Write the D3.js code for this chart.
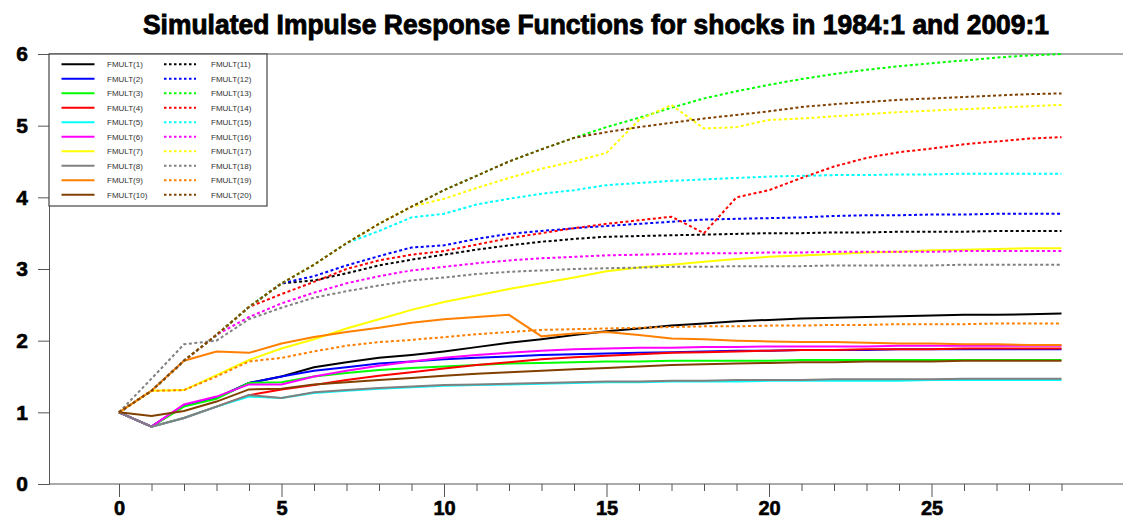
<!DOCTYPE html>
<html>
<head>
<meta charset="utf-8">
<script src="https://d3js.org/d3.v7.min.js"></script>
<style>
body { margin:0; background:#fff; }
text { font-family: "Liberation Sans", Arial, sans-serif; }
</style>
</head>
<body>
<script>
// horizon (periods after shock)
var periods = [0,1,2,3,4,5,6,7,8,9,10,11,12,13,14,15,16,17,18,19,20,21,22,23,24,25,26,27,28,29];
var yTicks = [0,1,2,3,4,5,6];
var xLabelTicks = [0,5,10,15,20,25];

// solid lines, 1984:1 shock
var fmult1  = [1,0.8,1.1,1.2,1.41,1.5,1.63,1.7,1.76,1.8,1.85,1.91,1.97,2.02,2.08,2.13,2.17,2.21,2.24,2.27,2.29,2.31,2.32,2.33,2.34,2.35,2.36,2.36,2.37,2.38];
var fmult2  = [1,0.8,1.1,1.2,1.41,1.5,1.58,1.63,1.68,1.71,1.74,1.76,1.78,1.8,1.81,1.82,1.83,1.84,1.85,1.86,1.86,1.87,1.87,1.87,1.88,1.88,1.88,1.88,1.88,1.88];
var fmult3  = [1,0.8,1.08,1.19,1.41,1.42,1.5,1.55,1.59,1.62,1.64,1.66,1.68,1.69,1.7,1.71,1.71,1.72,1.72,1.72,1.72,1.73,1.73,1.73,1.73,1.73,1.73,1.73,1.73,1.73];
var fmult4  = [1,0.8,0.92,1.08,1.24,1.32,1.38,1.45,1.51,1.56,1.61,1.66,1.7,1.74,1.77,1.79,1.81,1.83,1.84,1.85,1.86,1.87,1.87,1.88,1.88,1.88,1.89,1.89,1.89,1.89];
var fmult5  = [1,0.8,0.92,1.08,1.22,1.2,1.27,1.3,1.33,1.35,1.37,1.38,1.39,1.4,1.41,1.42,1.42,1.43,1.43,1.43,1.44,1.44,1.44,1.44,1.44,1.45,1.45,1.45,1.45,1.45];
var fmult6  = [1,0.8,1.11,1.22,1.39,1.39,1.5,1.58,1.65,1.71,1.76,1.8,1.83,1.86,1.88,1.89,1.9,1.9,1.91,1.91,1.92,1.92,1.92,1.92,1.93,1.93,1.93,1.93,1.93,1.93];
var fmult7  = [1,1.3,1.31,1.52,1.73,1.89,2.02,2.17,2.3,2.43,2.54,2.63,2.72,2.8,2.88,2.97,3.02,3.06,3.1,3.14,3.17,3.19,3.21,3.23,3.24,3.26,3.27,3.28,3.29,3.29];
var fmult8  = [1,0.8,0.92,1.08,1.24,1.2,1.28,1.31,1.34,1.36,1.38,1.39,1.4,1.41,1.42,1.43,1.43,1.44,1.44,1.45,1.45,1.45,1.46,1.46,1.46,1.46,1.47,1.47,1.47,1.47];
var fmult9  = [1,1.3,1.72,1.85,1.83,1.96,2.05,2.12,2.18,2.25,2.3,2.33,2.36,2.06,2.1,2.12,2.08,2.03,2.02,2.0,1.99,1.98,1.98,1.97,1.96,1.96,1.95,1.95,1.94,1.94];
var fmult10 = [1,0.95,1.02,1.15,1.32,1.33,1.39,1.42,1.45,1.48,1.51,1.54,1.56,1.58,1.6,1.62,1.64,1.66,1.67,1.68,1.69,1.7,1.7,1.71,1.71,1.71,1.72,1.72,1.72,1.72];
// dotted lines, 2009:1 shock
var fmult11 = [1,1.3,1.72,2.08,2.47,2.8,2.84,2.94,3.05,3.13,3.2,3.27,3.33,3.38,3.42,3.45,3.46,3.47,3.48,3.49,3.5,3.5,3.51,3.51,3.52,3.52,3.52,3.53,3.53,3.53];
var fmult12 = [1,1.3,1.72,2.08,2.47,2.8,2.9,3.05,3.18,3.3,3.33,3.42,3.49,3.53,3.57,3.6,3.63,3.66,3.69,3.7,3.71,3.72,3.74,3.75,3.75,3.76,3.76,3.77,3.77,3.77];
var fmult13 = [1,1.3,1.72,2.08,2.47,2.8,3.06,3.36,3.63,3.87,4.1,4.3,4.5,4.67,4.83,4.98,5.11,5.25,5.38,5.48,5.57,5.65,5.72,5.78,5.83,5.87,5.91,5.95,5.98,6.0];
var fmult14 = [1,1.3,1.72,2.08,2.47,2.65,2.82,3.0,3.12,3.2,3.25,3.34,3.43,3.5,3.57,3.63,3.68,3.73,3.5,4.0,4.1,4.27,4.43,4.55,4.63,4.68,4.74,4.78,4.82,4.84];
var fmult15 = [1,1.3,1.72,2.08,2.47,2.8,3.06,3.36,3.53,3.72,3.77,3.9,3.98,4.05,4.1,4.17,4.2,4.23,4.25,4.27,4.29,4.3,4.31,4.31,4.32,4.32,4.33,4.33,4.33,4.33];
var fmult16 = [1,1.3,1.72,2.08,2.33,2.52,2.67,2.8,2.9,2.98,3.03,3.08,3.12,3.15,3.17,3.19,3.2,3.21,3.22,3.22,3.23,3.23,3.24,3.24,3.24,3.24,3.25,3.25,3.25,3.25];
var fmult17 = [1,1.3,1.72,2.08,2.47,2.8,3.06,3.36,3.63,3.87,3.98,4.13,4.27,4.4,4.5,4.62,5.08,5.29,4.96,4.98,5.08,5.1,5.13,5.16,5.19,5.21,5.23,5.25,5.27,5.29];
var fmult18 = [1,1.47,1.95,2.0,2.3,2.46,2.6,2.69,2.77,2.84,2.88,2.93,2.96,2.98,3.0,3.01,3.02,3.03,3.03,3.04,3.04,3.04,3.05,3.05,3.05,3.05,3.06,3.06,3.06,3.06];
var fmult19 = [1,1.3,1.31,1.5,1.71,1.76,1.85,1.93,1.98,2.01,2.05,2.09,2.12,2.15,2.16,2.17,2.18,2.19,2.2,2.2,2.21,2.21,2.22,2.22,2.23,2.23,2.23,2.24,2.24,2.24];
var fmult20 = [1,1.3,1.72,2.08,2.47,2.8,3.06,3.36,3.63,3.87,4.1,4.3,4.5,4.67,4.83,4.91,4.98,5.04,5.1,5.15,5.2,5.26,5.3,5.33,5.36,5.38,5.4,5.42,5.44,5.45];

var seriesNames = ["FMULT(1)","FMULT(2)","FMULT(3)","FMULT(4)","FMULT(5)","FMULT(6)","FMULT(7)","FMULT(8)","FMULT(9)","FMULT(10)",
                   "FMULT(11)","FMULT(12)","FMULT(13)","FMULT(14)","FMULT(15)","FMULT(16)","FMULT(17)","FMULT(18)","FMULT(19)","FMULT(20)"];
var seriesValues = [fmult1,fmult2,fmult3,fmult4,fmult5,fmult6,fmult7,fmult8,fmult9,fmult10,
                    fmult11,fmult12,fmult13,fmult14,fmult15,fmult16,fmult17,fmult18,fmult19,fmult20];
var palette = ["#000000","#0000ff","#00ff00","#ff0000","#00ffff","#ff00ff","#ffff00","#808080","#ff8000","#804000"];

var width = 1123, height = 519;
var axisLeft = 49, plotTop = 54, plotBottom = 484;

var svg = d3.select("body").append("svg")
            .attr("width", width)
            .attr("height", height);

var x = d3.scaleLinear().domain([0,29]).range([119, 1061.5]);
var y = d3.scaleLinear().domain([0,6]).range([plotBottom, plotTop]);

// title (stroke makes it look heavier like the original)
svg.append("text")
   .attr("x", 143).attr("y", 34)
   .attr("textLength", 906).attr("lengthAdjust","spacingAndGlyphs")
   .attr("font-size", 28).attr("font-weight","bold")
   .attr("stroke","#000").attr("stroke-width",0.9)
   .text("Simulated Impulse Response Functions for shocks in 1984:1 and 2009:1");

// frame line on top
svg.append("line").attr("x1",axisLeft).attr("x2",width).attr("y1",plotTop).attr("y2",plotTop)
   .attr("stroke","#555").attr("stroke-width",1);

// y axis
var yAxis = svg.append("g").attr("transform","translate("+axisLeft+",0)")
   .call(d3.axisLeft(y).tickValues(yTicks).tickSize(11).tickPadding(10).tickFormat(d3.format("d")));
yAxis.select(".domain").attr("stroke","#555");
yAxis.selectAll(".tick line").attr("stroke","#555");
yAxis.selectAll(".tick text").attr("font-size",21).attr("font-weight","bold")
     .attr("fill","#000").attr("stroke","#000").attr("stroke-width",0.6)
     .style("font-family","'Liberation Sans', Arial, sans-serif");

// x axis
var xAxis = svg.append("g").attr("transform","translate(0,"+plotBottom+")")
   .call(d3.axisBottom(x).tickValues(periods).tickSize(7).tickPadding(6)
         .tickFormat(function(d){ return xLabelTicks.indexOf(d) >= 0 ? d : ""; }));
xAxis.select(".domain").remove();
xAxis.selectAll(".tick line").attr("stroke","#555")
     .attr("y2", function(d){ return xLabelTicks.indexOf(d) >= 0 ? 13 : 7; });
xAxis.selectAll(".tick text").attr("y", 17).attr("font-size",20).attr("font-weight","bold")
     .attr("fill","#000").attr("stroke","#000").attr("stroke-width",0.6)
     .style("font-family","'Liberation Sans', Arial, sans-serif");
svg.append("line").attr("x1",axisLeft).attr("x2",width).attr("y1",plotBottom).attr("y2",plotBottom)
   .attr("stroke","#555").attr("stroke-width",1);

// response lines
var line = d3.line()
   .x(function(d,i){ return x(periods[i]); })
   .y(function(d){ return y(d); });

svg.append("g").selectAll(".irf")
   .data(seriesValues)
   .enter().append("path")
   .attr("class","irf")
   .attr("d", line)
   .attr("fill","none")
   .attr("stroke", function(d,i){ return palette[i%10]; })
   .attr("stroke-width", 2)
   .attr("stroke-dasharray", function(d,i){ return i >= 10 ? "3,2.5" : null; });

// legend box
var legend = svg.append("g");
legend.append("rect")
      .attr("x", axisLeft).attr("y", plotTop)
      .attr("width", 218).attr("height", 152)
      .attr("fill","#fff").attr("stroke","#444").attr("stroke-width",1.2);

var rowY = function(i){ return 64.3 + (i%10)*14.5; };
legend.selectAll(".legline")
      .data(seriesNames)
      .enter().append("line")
      .attr("x1", function(d,i){ return i < 10 ? 61.5 : 164; })
      .attr("x2", function(d,i){ return i < 10 ? 94.5 : 196; })
      .attr("y1", function(d,i){ return rowY(i); })
      .attr("y2", function(d,i){ return rowY(i); })
      .attr("stroke", function(d,i){ return palette[i%10]; })
      .attr("stroke-width", 2)
      .attr("stroke-dasharray", function(d,i){ return i >= 10 ? "2.5,2.5" : null; });

legend.selectAll(".legtext")
      .data(seriesNames)
      .enter().append("text")
      .attr("x", function(d,i){ return i < 10 ? 107 : 211; })
      .attr("y", function(d,i){ return rowY(i) + 3; })
      .attr("font-size", 8)
      .attr("fill","#333")
      .text(function(d){ return d; });
</script>
</body>
</html>
